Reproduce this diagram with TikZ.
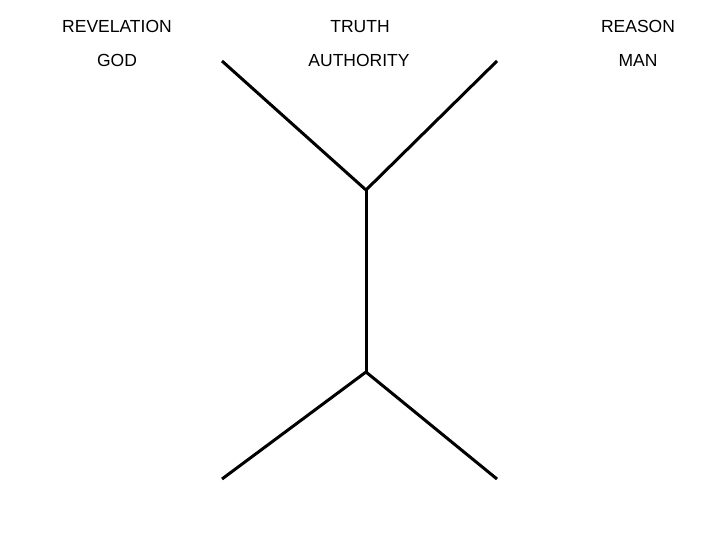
\documentclass[tikz,border=0pt]{standalone}
\usepackage{fontspec}
\setmainfont{Liberation Sans}
\begin{document}
\begin{tikzpicture}[x=1pt,y=-1pt,
  lbl/.style={font=\fontsize{17.5}{20}\selectfont, inner sep=0pt, anchor=base},
  stroke/.style={line width=3pt, line cap=butt}]
\useasboundingbox (0,0) rectangle (720,540);
\fill[white] (0,0) rectangle (720,540);
\node[lbl] (rev) at (117,32.5) {REVELATION};
\node[lbl] (tru) at (360,32.5) {TRUTH};
\node[lbl] (rea) at (638,32.5) {REASON};
\node[lbl] (god) at (117,66.5) {GOD};
\node[lbl] (aut) at (359,66.5) {AUTHORITY};
\node[lbl] (man) at (638,66.5) {MAN};
\coordinate (tl) at (222,61);
\coordinate (tr) at (497,61);
\coordinate (jt) at (366,190);
\coordinate (jb) at (366,372);
\coordinate (bl) at (222,479);
\coordinate (br) at (497,479);
\draw[stroke] (tl) -- (jt);
\draw[stroke] (tr) -- (jt);
\draw[stroke] (jt) -- (jb);
\draw[stroke] (jb) -- (bl);
\draw[stroke] (jb) -- (br);
\end{tikzpicture}
\end{document}
